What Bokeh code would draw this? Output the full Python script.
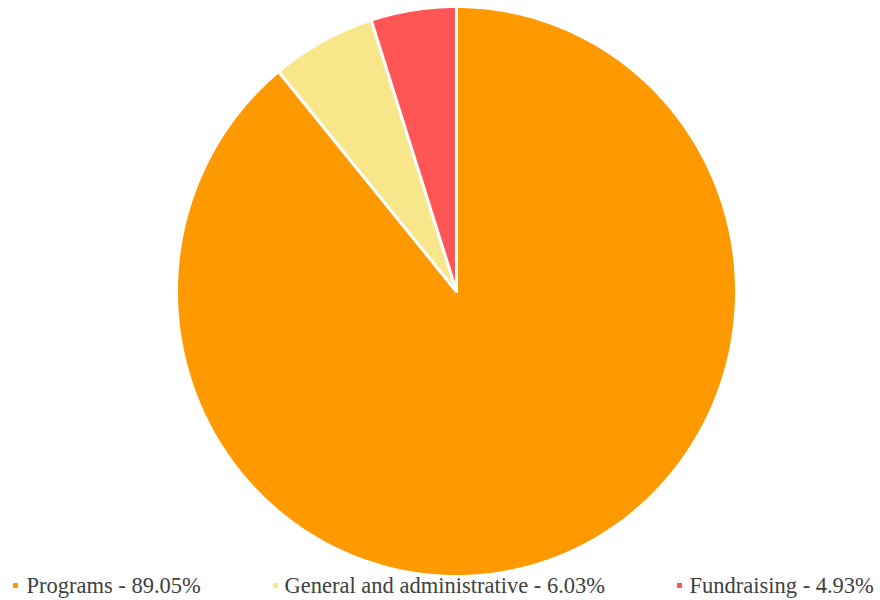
import numpy as np
from bokeh.plotting import figure
from bokeh.models import Range1d, ColumnDataSource
from bokeh.core.properties import value
from bokeh.embed import file_html
from bokeh.resources import INLINE

# ---- data ----
categories = ["Programs", "General and administrative", "Fundraising"]
shares = [89.05, 6.03, 4.93]
colors = ["#FF9900", "#F7E68A", "#FF5555"]
labels = [f"{c} - {v:.2f}%" for c, v in zip(categories, shares)]

# ---- layout ----
W, H = 880, 600
cx, cy = 456, 291      # pie centre (px)
rx, ry = 280, 285      # pie radii (px)
legend_marker_x = [15, 275, 679]
legend_text_x = [26, 284, 689]
legend_marker_y = 585
legend_text_y = 585

p = figure(width=W, height=H, output_backend="svg", toolbar_location=None,
           x_range=Range1d(0, W), y_range=Range1d(H, 0), min_border=0)
p.axis.visible = False
p.grid.visible = False
p.outline_line_color = None
p.background_fill_color = "white"
p.border_fill_color = "white"

# slices: clockwise from 12 o'clock
total = sum(shares)
xs, ys = [], []
start = 0.0
for v in shares:
    end = start + v / total * 2 * np.pi
    t = np.linspace(start, end, max(int((end - start) / (2 * np.pi) * 720), 4))
    xs.append([cx] + list(cx + rx * np.sin(t)))
    ys.append([cy] + list(cy - ry * np.cos(t)))
    start = end

src = ColumnDataSource(dict(xs=xs, ys=ys, color=colors))
p.patches("xs", "ys", source=src, fill_color="color", line_color="white",
          line_width=3, line_join="round")

# legend (manual)
leg = ColumnDataSource(dict(mx=legend_marker_x, my=[legend_marker_y] * 3,
                            tx=legend_text_x, ty=[legend_text_y] * 3,
                            label=labels, color=colors))
p.rect(x="mx", y="my", width=5, height=5, source=leg, fill_color="color",
       line_color=None)
p.text(x="tx", y="ty", text="label", source=leg, text_font=value("Liberation Serif"),
       text_font_size="22.5px", text_color="#404040", text_baseline="middle",
       text_align="left")

open("out.html", "w").write(file_html(p, INLINE))
